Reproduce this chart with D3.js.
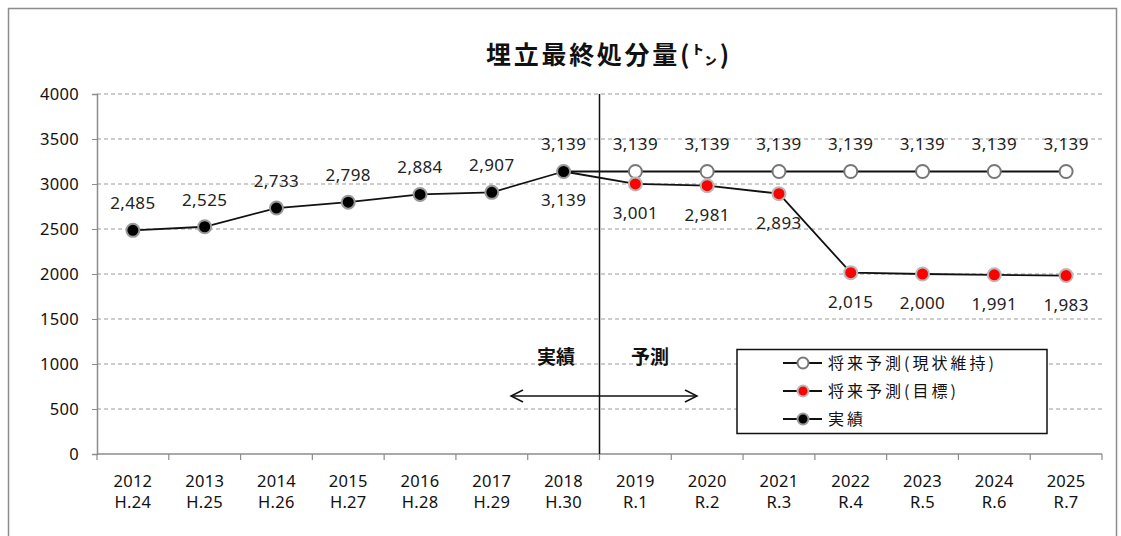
<!DOCTYPE html>
<html>
<head>
<meta charset="utf-8">
<script src="https://cdn.jsdelivr.net/npm/d3@7"></script>
<style>
  html, body { margin: 0; padding: 0; background: #fff; }
  svg { display: block; }
  .num { font-family: "Noto Sans", "Open Sans", sans-serif; }
  .jp { font-family: "Noto Sans CJK JP", sans-serif; }
</style>
</head>
<body>
<svg id="chart" width="1121" height="536"></svg>
<script>
// Categories: western year and Japanese era label
const years = ["2012","2013","2014","2015","2016","2017","2018","2019","2020","2021","2022","2023","2024","2025"];
const eras  = ["H.24","H.25","H.26","H.27","H.28","H.29","H.30","R.1","R.2","R.3","R.4","R.5","R.6","R.7"];

// Landfill disposal (t)
const actualYears = ["2012","2013","2014","2015","2016","2017","2018"];
const actualValues = [2485, 2525, 2733, 2798, 2884, 2907, 3139];

const keepYears = ["2018","2019","2020","2021","2022","2023","2024","2025"];
const keepValues = [3139, 3139, 3139, 3139, 3139, 3139, 3139, 3139];

const targetYears = ["2018","2019","2020","2021","2022","2023","2024","2025"];
const targetValues = [3139, 3001, 2981, 2893, 2015, 2000, 1991, 1983];

const yTicks = [0, 500, 1000, 1500, 2000, 2500, 3000, 3500, 4000];

const title = "埋立最終処分量(㌧)";
const legendNames = ["将来予測(現状維持)", "将来予測(目標)", "実績"];

const svg = d3.select("#chart");
const fmt = d3.format(",");

// outer frame
svg.append("rect")
  .attr("x", 8.5).attr("y", 8.5).attr("width", 1108).attr("height", 540)
  .attr("fill", "none").attr("stroke", "#8c8c8c").attr("stroke-width", 1.5);

const plotLeft = 97, plotRight = 1102, plotTop = 94, plotBottom = 454;

const x = d3.scaleBand().domain(years).range([plotLeft, plotRight]);
const y = d3.scaleLinear().domain([0, 4000]).range([plotBottom, plotTop]);
const cx = d => x(d) + x.bandwidth() / 2;

// horizontal gridlines
svg.append("g").selectAll("line")
  .data(yTicks.filter(t => t > 0))
  .join("line")
  .attr("x1", plotLeft).attr("x2", plotRight)
  .attr("y1", d => y(d)).attr("y2", d => y(d))
  .attr("stroke", "#9a9a9a").attr("stroke-width", 1)
  .attr("stroke-dasharray", "4,3");

// y axis
const yAxis = svg.append("g")
  .attr("transform", `translate(${plotLeft},0)`)
  .call(d3.axisLeft(y).tickValues(yTicks).tickSize(5).tickPadding(13).tickFormat(d => d));
yAxis.select(".domain").attr("stroke", "#8c8c8c").attr("stroke-width", 1.5);
yAxis.selectAll(".tick line").attr("stroke", "#8c8c8c");
yAxis.selectAll(".tick text")
  .attr("class", "num").attr("font-size", 16.5).attr("letter-spacing", 0.3).attr("fill", "#111");

// x axis: ticks on category boundaries
const xAxisG = svg.append("g");
xAxisG.append("line")
  .attr("x1", plotLeft).attr("x2", plotRight).attr("y1", plotBottom).attr("y2", plotBottom)
  .attr("stroke", "#8c8c8c").attr("stroke-width", 1.5);
xAxisG.selectAll("line.tk")
  .data(years.concat(["end"]))
  .join("line").attr("class", "tk")
  .attr("x1", (d, i) => plotLeft + i * x.bandwidth())
  .attr("x2", (d, i) => plotLeft + i * x.bandwidth())
  .attr("y1", plotBottom).attr("y2", plotBottom + 6)
  .attr("stroke", "#8c8c8c").attr("stroke-width", 1.2);
xAxisG.selectAll("text.yr")
  .data(years).join("text").attr("class", "num")
  .attr("x", d => cx(d)).attr("y", 487)
  .attr("text-anchor", "middle").attr("font-size", 16.5).attr("letter-spacing", 0.3).attr("fill", "#111")
  .text(d => d);
xAxisG.selectAll("text.era")
  .data(eras).join("text").attr("class", "num")
  .attr("x", (d, i) => cx(years[i])).attr("y", 508)
  .attr("text-anchor", "middle").attr("font-size", 16.5).attr("letter-spacing", 0.3).attr("fill", "#111")
  .text(d => d);

// divider between actual and forecast
const divX = x("2019");
svg.append("line")
  .attr("x1", divX).attr("x2", divX).attr("y1", plotTop).attr("y2", plotBottom)
  .attr("stroke", "#111").attr("stroke-width", 1.5);

// title
svg.append("text").attr("class", "jp")
  .attr("x", 609).attr("y", 64).attr("text-anchor", "middle")
  .attr("font-size", 25).attr("letter-spacing", 2.7).attr("font-weight", "bold").attr("fill", "#111")
  .text(title);

// lines
const line = d3.line().x(d => cx(d[0])).y(d => y(d[1]));
const zip = (a, b) => a.map((d, i) => [d, b[i]]);

const keepPts = zip(keepYears, keepValues);
const targetPts = zip(targetYears, targetValues);
const actualPts = zip(actualYears, actualValues);

[keepPts, targetPts, actualPts].forEach(pts => {
  svg.append("path").datum(pts)
    .attr("d", line).attr("fill", "none")
    .attr("stroke", "#111").attr("stroke-width", 1.8);
});

// markers
function markers(pts, fill, stroke) {
  svg.append("g").selectAll("circle")
    .data(pts).join("circle")
    .attr("cx", d => cx(d[0])).attr("cy", d => y(d[1]))
    .attr("r", 6.5).attr("fill", fill)
    .attr("stroke", stroke).attr("stroke-width", 2);
}
markers(keepPts.slice(1), "#fff", "#777");
markers(targetPts.slice(1), "#ff0000", "#b9b9b9");
markers(actualPts, "#000", "#9a9a9a");

// data labels
function labels(pts, dy) {
  svg.append("g").selectAll("text")
    .data(pts).join("text").attr("class", "num")
    .attr("x", d => cx(d[0])).attr("y", d => y(d[1]) + dy)
    .attr("text-anchor", "middle").attr("font-size", 17).attr("letter-spacing", 0.4).attr("fill", "#222")
    .text(d => fmt(d[1]));
}
labels(actualPts, -21);
labels(keepPts.slice(1), -21);
labels(targetPts, 35);

// actual / forecast annotation with double arrow
svg.append("text").attr("class", "jp")
  .attr("x", 556).attr("y", 364).attr("text-anchor", "middle")
  .attr("font-size", 19).attr("font-weight", "bold").attr("fill", "#111")
  .text("実績");
svg.append("text").attr("class", "jp")
  .attr("x", 650).attr("y", 364).attr("text-anchor", "middle")
  .attr("font-size", 19).attr("font-weight", "bold").attr("fill", "#111")
  .text("予測");
const ay = 396, ax1 = 511, ax2 = 697;
svg.append("line").attr("x1", ax1).attr("x2", ax2).attr("y1", ay).attr("y2", ay)
  .attr("stroke", "#111").attr("stroke-width", 1.5);
svg.append("path")
  .attr("d", `M${ax1 + 12},${ay - 6} L${ax1},${ay} L${ax1 + 12},${ay + 6} M${ax2 - 12},${ay - 6} L${ax2},${ay} L${ax2 - 12},${ay + 6}`)
  .attr("fill", "none").attr("stroke", "#111").attr("stroke-width", 1.5);

// legend
const lg = svg.append("g");
lg.append("rect")
  .attr("x", 737).attr("y", 349.5).attr("width", 310).attr("height", 84)
  .attr("fill", "#fff").attr("stroke", "#111").attr("stroke-width", 1.5);
const legendStyles = [
  { fill: "#fff", stroke: "#777" },
  { fill: "#ff0000", stroke: "#b9b9b9" },
  { fill: "#000", stroke: "#9a9a9a" }
];
const legendY = [363, 391, 419];
legendNames.forEach((name, i) => {
  const yy = legendY[i];
  lg.append("line").attr("x1", 783).attr("x2", 822).attr("y1", yy).attr("y2", yy)
    .attr("stroke", "#111").attr("stroke-width", 1.8);
  lg.append("circle").attr("cx", 803).attr("cy", yy).attr("r", 5.5)
    .attr("fill", legendStyles[i].fill).attr("stroke", legendStyles[i].stroke).attr("stroke-width", 2);
  lg.append("text").attr("class", "jp")
    .attr("x", 828).attr("y", yy + 6).attr("font-size", 16).attr("letter-spacing", 3).attr("fill", "#111")
    .text(name);
});
</script>
</body>
</html>
